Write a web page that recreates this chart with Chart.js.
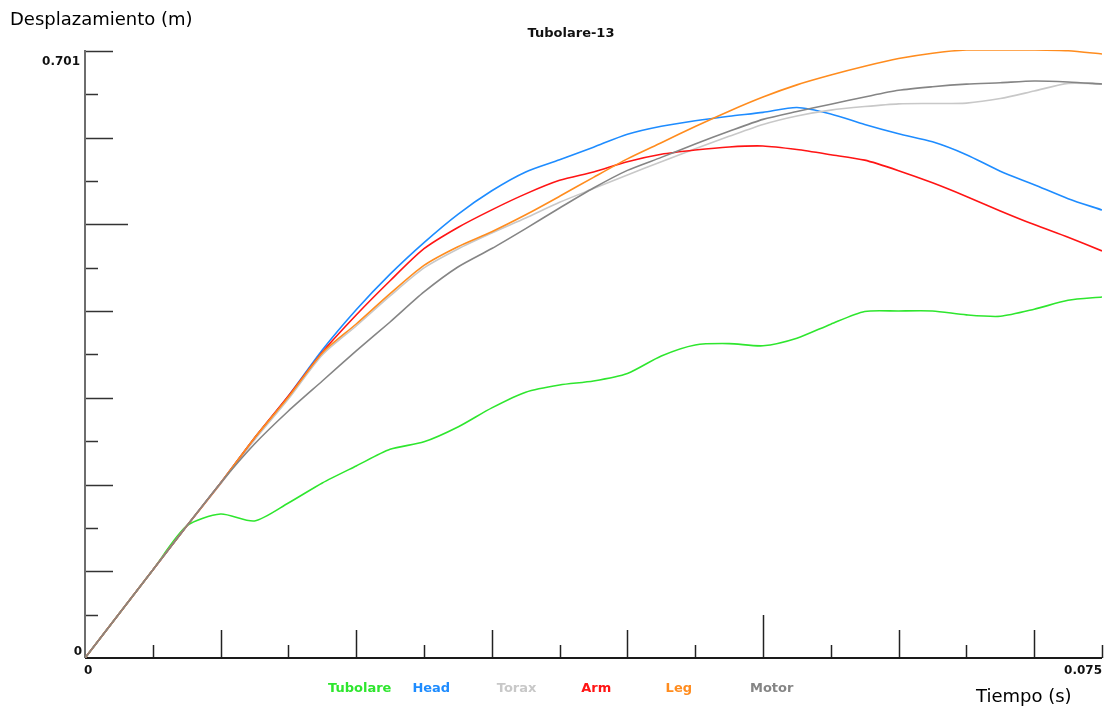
<!DOCTYPE html>
<html>
<head>
<meta charset="utf-8">
<script src="https://cdn.jsdelivr.net/npm/chart.js@4"></script>
<style>
  body{margin:0;background:#fff;}
  canvas{display:block;}
</style>
</head>
<body>
<canvas id="c" width="1106" height="710"></canvas>
<script>
// tiempo (s)
const time = [0,0.0025,0.005,0.0075,0.01,0.0125,0.015,0.0175,0.02,0.0225,0.025,0.0275,0.03,0.0325,0.035,
  0.0375,0.04,0.0425,0.045,0.0475,0.05,0.0525,0.055,0.0575,0.06,0.0625,0.065,0.0675,0.07,0.0725,0.075];

// desplazamiento (m)
const tubolare = [0,0.0507,0.1015,0.1522,0.166,0.158,0.1787,0.2018,0.2214,0.2406,0.2492,0.2663,0.2884,0.3065,0.3148,
  0.3194,0.328,0.3482,0.3609,0.3625,0.36,0.3687,0.3849,0.3995,0.4001,0.4001,0.3956,0.394,0.4021,0.4124,0.4162];
const head = [0,0.0507,0.1015,0.1522,0.2018,0.2537,0.3021,0.3551,0.4015,0.4426,0.479,0.5116,0.5387,0.5604,0.5744,
  0.589,0.6039,0.6131,0.6195,0.6247,0.6291,0.6347,0.6273,0.6151,0.6044,0.5951,0.5803,0.5613,0.5457,0.5296,0.5165];
const torax = [0,0.0507,0.1015,0.1522,0.2006,0.2514,0.2986,0.3494,0.3828,0.4174,0.4497,0.4716,0.49,0.5073,0.5254,
  0.5412,0.5569,0.5722,0.5872,0.6015,0.6152,0.625,0.6317,0.6358,0.6389,0.6393,0.6398,0.645,0.6537,0.6625,0.6618];
const arm = [0,0.0507,0.1015,0.1522,0.2018,0.2537,0.3021,0.3526,0.3955,0.435,0.4719,0.4964,0.5167,0.5351,0.5507,
  0.5604,0.5722,0.5808,0.5857,0.5892,0.5903,0.5862,0.5803,0.574,0.5619,0.5479,0.5322,0.5155,0.4997,0.485,0.4693];
const leg = [0,0.0507,0.1015,0.1522,0.2018,0.2537,0.3009,0.3517,0.3851,0.4201,0.4527,0.4742,0.4915,0.511,0.5323,
  0.5542,0.5755,0.5941,0.6128,0.6305,0.6468,0.6608,0.6721,0.6822,0.6911,0.6973,0.701,0.701,0.701,0.7001,0.6964];
const motor = [0,0.0507,0.1015,0.1522,0.2018,0.2467,0.2848,0.3194,0.354,0.3874,0.422,0.4508,0.4721,0.4951,0.5188,
  0.5419,0.5622,0.5772,0.5926,0.6073,0.621,0.6301,0.6385,0.6468,0.6545,0.6586,0.6616,0.6633,0.6652,0.6641,0.6618];

const names = ["Tubolare","Head","Torax","Arm","Leg","Motor"];
const colors = ["#2ee62e","#1e8cff","#c8c8c8","#ff1414","#ff8c1e","#858585"];
const series = [tubolare,head,torax,arm,leg,motor];

const yMax = 0.701, xMax = 0.075;

const deco = {
  id:"deco",
  beforeDatasetsDraw(chart){
    const ctx = chart.ctx, a = chart.chartArea;
    const xs = chart.scales.x, ys = chart.scales.y;
    ctx.save();
    // ticks eje Y
    ctx.strokeStyle = "#333";
    ctx.lineWidth = 1.5;
    for(let i=1;i<=14;i++){
      const y = Math.round(ys.getPixelForValue(i*5/100))+0.5;
      const len = i==10 ? 43 : (i%2==0 ? 28 : 13);
      ctx.beginPath(); ctx.moveTo(a.left, y); ctx.lineTo(a.left+len, y); ctx.stroke();
    }
    // ticks eje X
    ctx.strokeStyle = "#222";
    for(let i=1;i<=15;i++){
      const x = Math.round(xs.getPixelForValue(i*5/1000))+0.5;
      const len = i==10 ? 43 : (i%2==0 ? 28 : 13);
      ctx.beginPath(); ctx.moveTo(x, a.bottom); ctx.lineTo(x, a.bottom-len); ctx.stroke();
    }
    // ejes
    ctx.lineWidth = 2;
    ctx.strokeStyle = "#6e6e6e";
    ctx.beginPath(); ctx.moveTo(a.left, a.top); ctx.lineTo(a.left, a.bottom); ctx.stroke();
    ctx.strokeStyle = "#1a1a1a";
    ctx.beginPath(); ctx.moveTo(a.left, a.bottom); ctx.lineTo(a.right, a.bottom); ctx.stroke();
    ctx.restore();
  },
  afterDraw(chart){
    const ctx = chart.ctx, a = chart.chartArea;
    ctx.save();
    ctx.fillStyle = "#000";
    ctx.textBaseline = "alphabetic";
    ctx.font = "18px 'DejaVu Sans'";
    ctx.textAlign = "left";
    ctx.fillText("Desplazamiento (m)", 10, 25);
    ctx.fillText("Tiempo (s)", 976, 702);

    ctx.fillStyle = "#111";
    ctx.font = "bold 13px 'DejaVu Sans'";
    ctx.textAlign = "center";
    ctx.fillText("Tubolare-13", 571, 37);

    ctx.font = "bold 12px 'DejaVu Sans'";
    ctx.textAlign = "right";
    ctx.fillText(String(yMax), 80, 65);
    ctx.fillText("0", 82, 655);
    ctx.fillText(String(xMax), 1102, 674);
    ctx.textAlign = "left";
    ctx.fillText("0", 84, 674);

    // leyenda
    ctx.font = "bold 13px 'DejaVu Sans'";
    chart.data.datasets.forEach((d,i)=>{
      ctx.fillStyle = d.borderColor;
      ctx.fillText(d.label, 328 + i*84.4, 692);
    });
    ctx.restore();
  }
};

new Chart(document.getElementById("c"),{
  type:"line",
  data:{
    datasets: names.map((n,i)=>({
      label:n,
      data: time.map((t,j)=>({x:t,y:series[i][j]})),
      borderColor:colors[i],
      borderWidth:1.6,
      pointRadius:0,
      tension:0.25,
      order:names.length-1-i,
      fill:false
    }))
  },
  options:{
    responsive:false,
    animation:false,
    layout:{padding:{left:85,top:50,right:4,bottom:52}},
    plugins:{legend:{display:false},title:{display:false},tooltip:{enabled:false}},
    scales:{
      x:{type:"linear",min:0,max:xMax,display:false},
      y:{type:"linear",min:0,max:yMax,display:false}
    }
  },
  plugins:[deco]
});
</script>
</body>
</html>
